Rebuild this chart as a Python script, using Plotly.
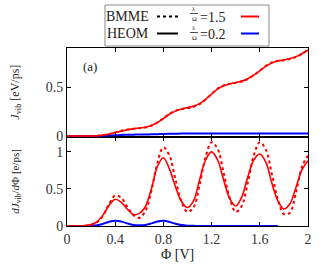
import plotly.graph_objects as go

phi = [round(0.05 * i, 2) for i in range(41)]

# top panel: J_vib [eV/ps]
J_heom_15 = [0, 0, 0, 0, 0, 0.003, 0.01, 0.02, 0.035, 0.05, 0.064, 0.074, 0.082, 0.09, 0.108, 0.138,
             0.178, 0.222, 0.254, 0.275, 0.29, 0.305, 0.33, 0.375, 0.428, 0.478, 0.512, 0.532, 0.546,
             0.56, 0.585, 0.622, 0.665, 0.71, 0.745, 0.765, 0.776, 0.79, 0.81, 0.84, 0.878]
J_bmme_15 = [0, 0, 0, 0, 0, 0.002, 0.008, 0.02, 0.037, 0.053, 0.066, 0.074, 0.08, 0.087, 0.105, 0.138,
             0.182, 0.228, 0.258, 0.274, 0.284, 0.298, 0.325, 0.372, 0.43, 0.483, 0.516, 0.532, 0.542,
             0.556, 0.58, 0.62, 0.668, 0.716, 0.75, 0.767, 0.774, 0.786, 0.806, 0.84, 0.88]
J_heom_02 = [0, 0, 0, 0, 0, 0.0005, 0.002, 0.005, 0.008, 0.011, 0.013, 0.014, 0.015, 0.016, 0.017, 0.019,
             0.021, 0.023, 0.024, 0.025, 0.025, 0.025, 0.025, 0.025, 0.025, 0.025, 0.025, 0.025, 0.025,
             0.025, 0.025, 0.025, 0.025, 0.025, 0.025, 0.025, 0.025, 0.025, 0.025, 0.025, 0.025]

# bottom panel: dJ_vib/dPhi [e/ps]
dJ_heom_15 = [0, 0, 0, 0.005, 0.02, 0.06, 0.15, 0.28, 0.36, 0.32, 0.23, 0.155, 0.17, 0.26, 0.5, 0.8,
              0.92, 0.77, 0.53, 0.33, 0.25, 0.34, 0.62, 0.89, 1.0, 0.89, 0.62, 0.37, 0.27, 0.39, 0.66,
              0.89, 0.97, 0.86, 0.58, 0.34, 0.23, 0.3, 0.52, 0.76, 0.88]
dJ_bmme_15 = [0, 0, 0, 0.003, 0.015, 0.05, 0.14, 0.3, 0.41, 0.38, 0.26, 0.15, 0.11, 0.2, 0.47, 0.85,
              1.06, 0.95, 0.63, 0.33, 0.19, 0.25, 0.55, 0.93, 1.13, 1.04, 0.72, 0.38, 0.19, 0.27, 0.58,
              0.95, 1.13, 1.03, 0.7, 0.36, 0.16, 0.18, 0.45, 0.8, 0.95]
phi_b = phi[:36]
dJ_heom_02 = [0, 0, 0, 0, 0.003, 0.01, 0.03, 0.058, 0.07, 0.06, 0.035, 0.015, 0.01, 0.015, 0.035, 0.06,
              0.07, 0.055, 0.03, 0.012, 0.004, 0.002, 0.001, 0, 0, 0, 0, 0, 0, 0, 0, 0, 0, 0, 0, 0]

RED = "#ff0000"
BLUE = "#0000ff"
FONT = "Liberation Serif"
DOT = "3px,3px"

fig = go.Figure()
# top panel
fig.add_trace(go.Scatter(x=phi, y=J_heom_02, xaxis="x2", yaxis="y2", mode="lines",
                         line=dict(color=BLUE, width=2), line_shape="spline"))
fig.add_trace(go.Scatter(x=phi, y=J_bmme_15, xaxis="x2", yaxis="y2", mode="lines",
                         line=dict(color=RED, width=2, dash=DOT), line_shape="spline"))
fig.add_trace(go.Scatter(x=phi, y=J_heom_15, xaxis="x2", yaxis="y2", mode="lines",
                         line=dict(color=RED, width=1.6), line_shape="spline"))
# bottom panel
fig.add_trace(go.Scatter(x=phi_b, y=dJ_heom_02, xaxis="x", yaxis="y", mode="lines",
                         line=dict(color=BLUE, width=2), line_shape="spline"))
fig.add_trace(go.Scatter(x=phi, y=dJ_bmme_15, xaxis="x", yaxis="y", mode="lines",
                         line=dict(color=RED, width=2, dash=DOT), line_shape="spline"))
fig.add_trace(go.Scatter(x=phi, y=dJ_heom_15, xaxis="x", yaxis="y", mode="lines",
                         line=dict(color=RED, width=1.6), line_shape="spline"))

xticks = [0, 0.4, 0.8, 1.2, 1.6, 2]
ax_common = dict(showline=True, linecolor="black", linewidth=1, mirror="allticks",
                 ticks="inside", ticklen=4, tickcolor="black", showgrid=False, zeroline=False,
                 tickfont=dict(family=FONT, size=14, color="#333"))

fig.update_layout(
    width=336, height=277,
    margin=dict(l=67, r=28, t=48, b=51),
    paper_bgcolor="white", plot_bgcolor="white",
    showlegend=False,
    font=dict(family=FONT, color="#222"),
    xaxis=dict(domain=[0, 1], anchor="y", range=[0, 2], tickvals=xticks,
               ticktext=["0", "0.4", "0.8", "1.2", "1.6", "2"], **ax_common),
    yaxis=dict(domain=[0, 0.5], anchor="x", range=[0, 1.2], tickvals=[0, 0.5, 1],
               ticktext=["0", "0.5", "1"], **ax_common),
    xaxis2=dict(domain=[0, 1], anchor="y2", range=[0, 2], tickvals=xticks,
                showticklabels=False, **ax_common),
    yaxis2=dict(domain=[0.5, 1], anchor="x2", range=[-0.01, 0.898], tickvals=[0, 0.5],
                ticktext=["0", "0.5"], **ax_common),
)

ann = []
ann.append(dict(text="(a)", x=0.06, y=0.95, xref="paper", yref="paper", showarrow=False,
                font=dict(family=FONT, size=13, color="#222")))
ann.append(dict(text="Φ [V]", x=0.46, y=-0.215, xref="paper", yref="paper", showarrow=False,
                font=dict(family=FONT, size=14, color="#222")))
ann.append(dict(text="<i>J</i><sub>vib</sub> [eV/ps]", x=-0.215, y=0.75,
                xref="paper", yref="paper", showarrow=False, textangle=-90,
                xanchor="center", yanchor="middle",
                font=dict(family=FONT, size=12, color="#222")))
ann.append(dict(text="<i>dJ</i><sub>vib</sub>/<i>d</i>Φ [e/ps]",
                x=-0.215, y=0.25, xref="paper", yref="paper", showarrow=False, textangle=-90,
                xanchor="center", yanchor="middle",
                font=dict(family=FONT, size=11, color="#222")))

# legend (drawn manually); paper coords: px -> (px-67)/241, py -> (226-py)/178
def px(v):
    return (v - 67) / 241


def py(v):
    return (226 - v) / 178


rows = [(16.5, 13.5, "BMME", DOT, "1.5", RED), (33.5, 32.5, "HEOM", "solid", "0.2", BLUE)]
shapes = [dict(type="rect", xref="paper", yref="paper", x0=px(105), x1=px(269), y0=py(46), y1=py(5),
               line=dict(color="#888", width=1), fillcolor="white", layer="below")]
for ty, by, name, dash, lam, col in rows:
    ann.append(dict(text=name, x=px(127.5), y=py(ty), xref="paper", yref="paper", showarrow=False,
                    xanchor="center", yanchor="middle",
                    font=dict(family=FONT, size=14, color="#222")))
    shapes.append(dict(type="line", xref="paper", yref="paper", x0=px(157), x1=px(178),
                       y0=py(ty), y1=py(ty), line=dict(color="black", width=2, dash=dash)))
    ann.append(dict(text="λ", x=px(194), y=py(by - 0.5), xref="paper", yref="paper", showarrow=False,
                    xanchor="center", yanchor="bottom", borderpad=0,
                    font=dict(family=FONT, size=6.5, color="#222")))
    ann.append(dict(text="Ω", x=px(194), y=py(by + 0.5), xref="paper", yref="paper", showarrow=False,
                    xanchor="center", yanchor="top", borderpad=0,
                    font=dict(family=FONT, size=6.5, color="#222")))
    shapes.append(dict(type="line", xref="paper", yref="paper", x0=px(190), x1=px(198),
                       y0=py(by), y1=py(by), line=dict(color="#222", width=0.8)))
    ann.append(dict(text="=" + lam, x=px(198), y=py(ty + 1), xref="paper", yref="paper",
                    showarrow=False, xanchor="left", yanchor="middle",
                    font=dict(family=FONT, size=14, color="#222")))
    shapes.append(dict(type="line", xref="paper", yref="paper", x0=px(241), x1=px(259),
                       y0=py(ty), y1=py(ty), line=dict(color=col, width=2)))

fig.update_layout(annotations=ann, shapes=shapes)
fig.write_html("out.html", config={"displayModeBar": False},
               post_script="document.body.style.margin='0';")
